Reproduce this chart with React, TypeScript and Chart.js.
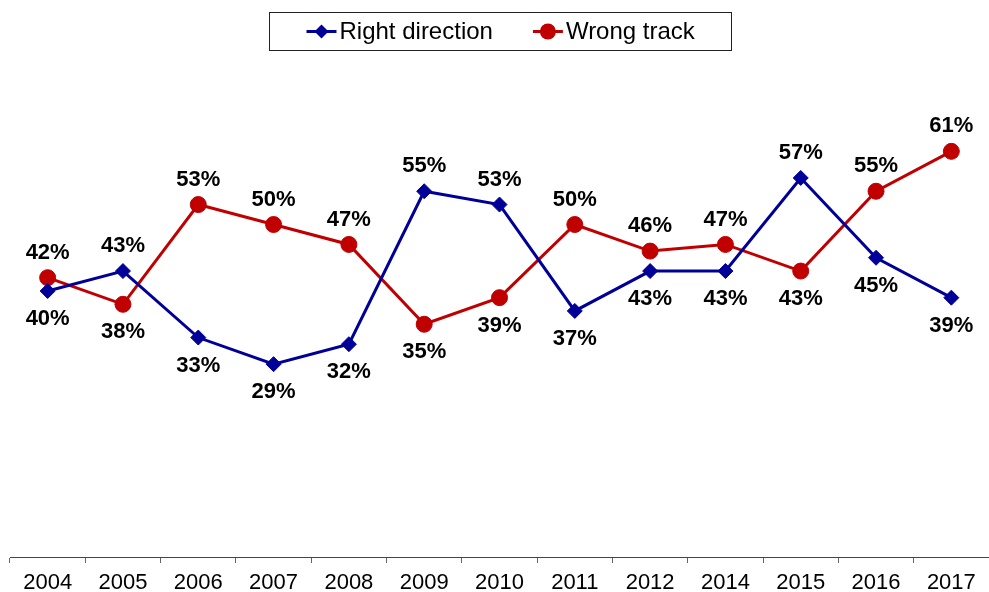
import { useEffect, useRef } from "react";
import { Chart, registerables } from "chart.js";

Chart.register(...registerables);

const categories = ["2004", "2005", "2006", "2007", "2008", "2009", "2010", "2011", "2012", "2014", "2015", "2016", "2017"];
const rightDirection = [40, 43, 33, 29, 32, 55, 53, 37, 43, 43, 57, 45, 39];
const wrongTrack = [42, 38, 53, 50, 47, 35, 39, 50, 46, 47, 43, 55, 61];
const seriesNames = ["Right direction", "Wrong track"];

const BLUE = "#000099";
const RED = "#C00000";
const FONT = '"Liberation Sans", Arial, sans-serif';

const valueLabels = {
  id: "valueLabels",
  afterDatasetsDraw(chart: any) {
    const ctx = chart.ctx;
    ctx.save();
    ctx.font = `bold 22px ${FONT}`;
    ctx.fillStyle = "#000";
    ctx.textAlign = "center";
    ctx.textBaseline = "middle";
    chart.data.datasets.forEach((ds: any, di: number) => {
      const meta = chart.getDatasetMeta(di);
      const other = chart.data.datasets[1 - di].data;
      meta.data.forEach((pt: any, i: number) => {
        const v = ds.data[i];
        const above = v >= other[i];
        ctx.fillText(v + "%", pt.x, pt.y + (above ? -25 : 28));
      });
    });
    ctx.restore();
  },
};

const boxLegend = {
  id: "boxLegend",
  afterDraw(chart: any) {
    const ctx = chart.ctx;
    const area = chart.chartArea;
    ctx.save();
    ctx.font = `24px ${FONT}`;
    const lineLen = 30;
    const textGap = 3;
    const itemGap = 40;
    const pad = 37;
    const items = chart.data.datasets.map((ds: any) => ({
      ds,
      w: ctx.measureText(ds.label).width,
    }));
    let content = 0;
    items.forEach((it: any, i: number) => {
      content += lineLen + textGap + it.w + (i > 0 ? itemGap : 0);
    });
    const boxW = Math.round(content + pad * 2);
    const boxH = 38;
    const cx = (area.left + area.right) / 2;
    const bx = Math.round(cx - boxW / 2) + 0.5;
    const by = 12.5;
    ctx.strokeStyle = "#222";
    ctx.lineWidth = 1;
    ctx.strokeRect(bx, by, boxW, boxH);
    const cy = by + boxH / 2;
    let x = bx + pad;
    items.forEach((it: any, i: number) => {
      if (i > 0) x += itemGap;
      const ds = it.ds;
      ctx.strokeStyle = ds.borderColor;
      ctx.lineWidth = 3;
      ctx.beginPath();
      ctx.moveTo(x, cy);
      ctx.lineTo(x + lineLen, cy);
      ctx.stroke();
      ctx.fillStyle = ds.pointBackgroundColor;
      ctx.beginPath();
      const mx = x + lineLen / 2;
      if (ds.pointStyle === "rectRot") {
        const r = 7;
        ctx.moveTo(mx, cy - r);
        ctx.lineTo(mx + r, cy);
        ctx.lineTo(mx, cy + r);
        ctx.lineTo(mx - r, cy);
        ctx.closePath();
      } else {
        ctx.arc(mx, cy, 8, 0, Math.PI * 2);
      }
      ctx.fill();
      x += lineLen + textGap;
      ctx.fillStyle = "#000";
      ctx.textAlign = "left";
      ctx.textBaseline = "middle";
      ctx.fillText(ds.label, x, cy + 1);
      x += it.w;
    });
    ctx.restore();
  },
};

export default function App() {
  const ref = useRef<HTMLCanvasElement | null>(null);

  useEffect(() => {
    if (!ref.current) return;
    const chart = new Chart(ref.current, {
      type: "line",
      data: {
        labels: categories,
        datasets: [
          {
            label: seriesNames[0],
            data: rightDirection,
            borderColor: BLUE,
            backgroundColor: BLUE,
            pointBackgroundColor: BLUE,
            pointBorderColor: BLUE,
            borderWidth: 3,
            pointStyle: "rectRot",
            pointRadius: 7.5,
            pointBorderWidth: 1,
            tension: 0,
          },
          {
            label: seriesNames[1],
            data: wrongTrack,
            borderColor: RED,
            backgroundColor: RED,
            pointBackgroundColor: RED,
            pointBorderColor: RED,
            borderWidth: 3,
            pointStyle: "circle",
            pointRadius: 8,
            pointBorderWidth: 1,
            tension: 0,
          },
        ],
      },
      options: {
        animation: false,
        responsive: true,
        maintainAspectRatio: false,
        layout: { autoPadding: false, padding: { top: 25, left: 10, right: 0, bottom: 0 } },
        plugins: {
          legend: { display: false },
          tooltip: { enabled: false },
        },
        scales: {
          x: {
            type: "category",
            offset: true,
            grid: {
              offset: true,
              drawOnChartArea: false,
              drawTicks: true,
              tickLength: 6,
              color: "#666",
            },
            border: { display: true, color: "#444", width: 1 },
            ticks: {
              color: "#000",
              font: { family: FONT, size: 22 },
              padding: 7,
              maxRotation: 0,
              autoSkip: false,
            },
            afterFit: (scale: any) => {
              scale.height = 35;
            },
          },
          y: {
            display: false,
            min: 0,
            max: 80,
          },
        },
      },
      plugins: [valueLabels, boxLegend],
    });
    return () => chart.destroy();
  }, []);

  return (
    <div style={{ position: "absolute", left: 0, top: 0, width: 989, height: 592, background: "#fff" }}>
      <canvas ref={ref} />
    </div>
  );
}
